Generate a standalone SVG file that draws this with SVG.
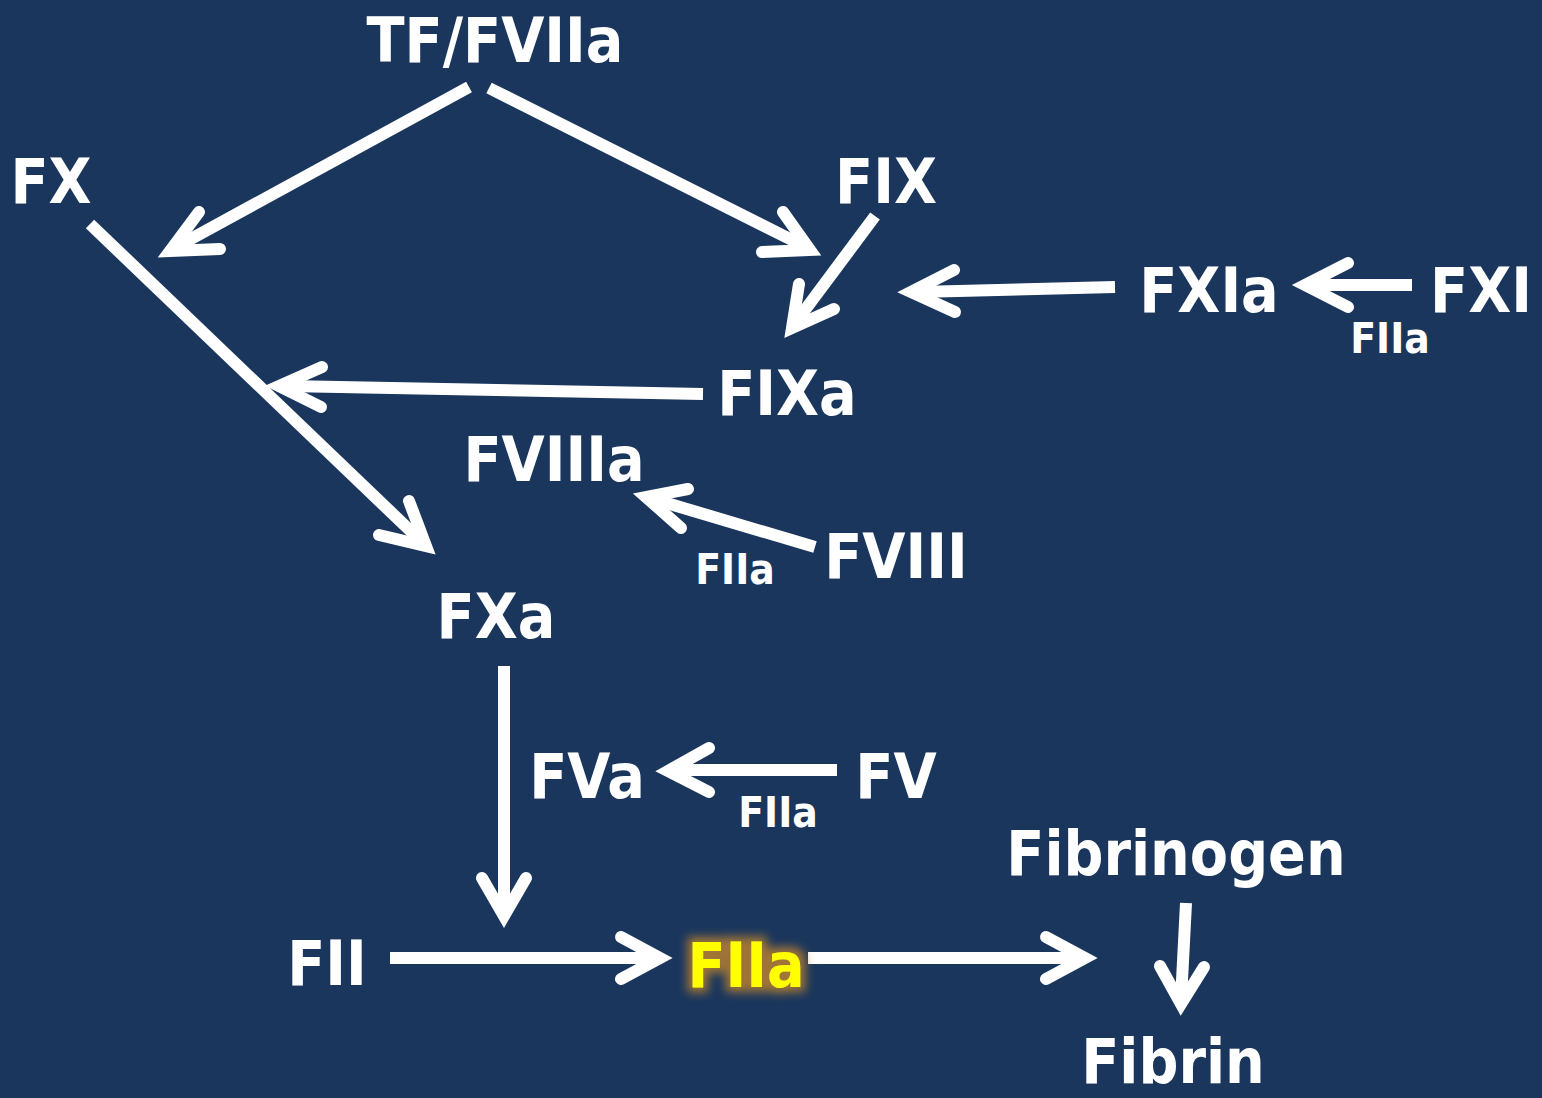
<svg xmlns="http://www.w3.org/2000/svg" width="1542" height="1098" viewBox="0 0 1542 1098">
<style>
.t{font-family:"Liberation Sans Narrow","DejaVu Sans Condensed","Liberation Sans",sans-serif;font-weight:bold;fill:#fff;font-size:62px}
.s{font-size:42px}
.y{fill:#ffff00}
.ln{fill:none;stroke:#fff;stroke-width:12;stroke-linecap:butt}
.hd{fill:none;stroke:#fff;stroke-width:12;stroke-linecap:round;stroke-linejoin:miter;stroke-miterlimit:10}
</style>
<defs>
<filter id="glow" x="-30%" y="-30%" width="160%" height="160%">
<feMorphology in="SourceAlpha" operator="dilate" radius="5" result="d"/>
<feGaussianBlur in="d" stdDeviation="5" result="b"/>
<feFlood flood-color="#b8802e" flood-opacity="0.85"/>
<feComposite in2="b" operator="in" result="g"/>
<feMerge><feMergeNode in="g"/><feMergeNode in="SourceGraphic"/></feMerge>
</filter>
</defs>
<rect width="1542" height="1098" fill="#1a365d"/>
<g id="connectors">
<line class="ln" x1="469" y1="87" x2="178" y2="246"/><polyline class="hd" points="199,212 170,251 220,249"/>
<line class="ln" x1="489" y1="88" x2="802" y2="245"/><polyline class="hd" points="783,212 810,250 762,252"/>
<line class="ln" x1="90" y1="224" x2="420" y2="540"/><polyline class="hd" points="409,501 426,546 379,535"/>
<line class="ln" x1="875" y1="216" x2="796" y2="322"/><polyline class="hd" points="799,284 792,328 834,309"/>
<line class="ln" x1="1115" y1="287" x2="918" y2="292"/><polyline class="hd" points="954,270 911,292 955,312"/>
<line class="ln" x1="1412" y1="285" x2="1312" y2="285"/><polyline class="hd" points="1348,263 1305,285 1348,307"/>
<line class="ln" x1="703" y1="394" x2="286" y2="386"/><polyline class="hd" points="322,367 279,386 321,407"/>
<line class="ln" x1="815" y1="547" x2="653" y2="499"/><polyline class="hd" points="688,489 646,497 681,528"/>
<line class="ln" x1="504" y1="666" x2="504" y2="912"/><polyline class="hd" points="482,878 504,916 526,878"/>
<line class="ln" x1="837" y1="770" x2="674" y2="770"/><polyline class="hd" points="709,748 668,771 709,792"/>
<line class="ln" x1="390" y1="958" x2="655" y2="958"/><polyline class="hd" points="621,937 660,958 621,979"/>
<line class="ln" x1="808" y1="958" x2="1080" y2="958"/><polyline class="hd" points="1046,937 1085,958 1046,979"/>
<line class="ln" x1="1186" y1="903" x2="1181" y2="1000"/><polyline class="hd" points="1160,966 1181,1004 1204,967"/>
</g>
<g id="TF_FVIIa"><text class="t" x="495" y="62" text-anchor="middle">TF/FVIIa</text></g>
<g id="FX"><text class="t" x="51" y="203" text-anchor="middle">FX</text></g>
<g id="FIX"><text class="t" x="886" y="203" text-anchor="middle">FIX</text></g>
<g id="FXIa"><text class="t" x="1209" y="312" text-anchor="middle">FXIa</text></g>
<g id="FXI"><text class="t" x="1481" y="312" text-anchor="middle">FXI</text></g>
<g id="FIIa_1"><text class="t s" x="1390" y="353" text-anchor="middle">FIIa</text></g>
<g id="FIXa"><text class="t" x="787" y="415" text-anchor="middle">FIXa</text></g>
<g id="FVIIIa"><text class="t" x="554" y="481" text-anchor="middle">FVIIIa</text></g>
<g id="FVIII"><text class="t" x="896" y="578" text-anchor="middle">FVIII</text></g>
<g id="FIIa_2"><text class="t s" x="735" y="584" text-anchor="middle">FIIa</text></g>
<g id="FXa"><text class="t" x="496" y="638" text-anchor="middle">FXa</text></g>
<g id="FVa"><text class="t" x="587" y="798" text-anchor="middle">FVa</text></g>
<g id="FV"><text class="t" x="896" y="798" text-anchor="middle">FV</text></g>
<g id="FIIa_3"><text class="t s" x="778" y="827" text-anchor="middle">FIIa</text></g>
<g id="Fibrinogen"><text class="t" x="1176" y="875" text-anchor="middle">Fibrinogen</text></g>
<g id="FII"><text class="t" x="327" y="985" text-anchor="middle">FII</text></g>
<g id="FIIa"><text class="t y" x="746" y="987" text-anchor="middle" filter="url(#glow)">FIIa</text></g>
<g id="Fibrin"><text class="t" x="1173" y="1083" text-anchor="middle">Fibrin</text></g>
</svg>
